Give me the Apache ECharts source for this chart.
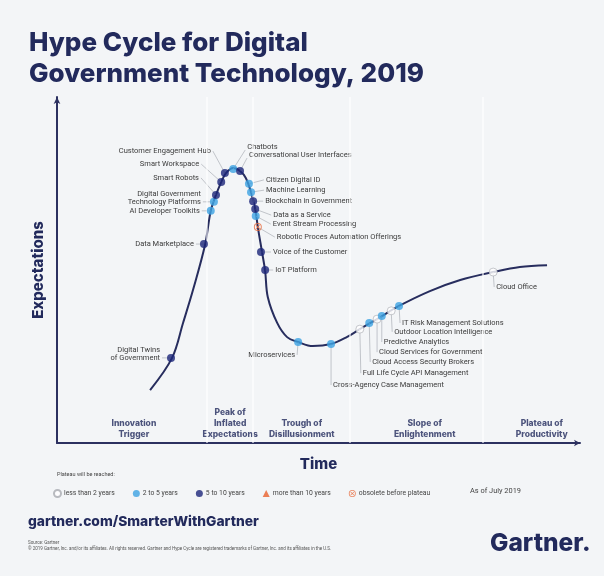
<!DOCTYPE html>
<html>
<head>
<meta charset="utf-8">
<script src="https://cdn.jsdelivr.net/npm/echarts@6/dist/echarts.min.js"></script>
<style>
  html, body { margin: 0; padding: 0; background: #f3f5f7; }
  #chart { width: 604px; height: 576px; }
</style>
</head>
<body>
<div id="chart"></div>
<script>
// hype curve (time 0-100, expectations 0-100)
const curveX = [17.8, 22.0, 24.1, 26.0, 28.3, 29.4, 30.4, 31.4, 32.3, 33.7, 35.0, 36.1, 37.1, 37.9, 38.4, 39.2, 39.8, 40.3, 42.1, 44.0, 46.1, 48.9, 52.4, 55.4, 57.9, 61.2, 65.4, 71.3, 77.1, 83.4, 88.5, 93.7];
const curveY = [15.3, 24.6, 34.7, 44.2, 57.2, 67.1, 71.7, 75.4, 78.0, 79.5, 78.6, 76.6, 72.5, 67.6, 62.4, 55.2, 49.7, 42.2, 34.7, 30.6, 29.2, 28.0, 28.6, 30.6, 32.9, 35.8, 39.6, 43.9, 47.1, 49.4, 50.9, 51.4];

// technologies on the curve
const techNames = [
  'Digital Twins\nof Government', 'Data Marketplace', 'AI Developer Toolkits',
  'Digital Government\nTechnology Platforms', 'Smart Robots', 'Smart Workspace',
  'Customer Engagement Hub', 'Chatbots', 'Conversational User Interfaces',
  'Citizen Digital ID', 'Machine Learning', 'Blockchain in Government',
  'Data as a Service', 'Event Stream Processing', 'Robotic Proces Automation Offerings',
  'Voice of the Customer', 'IoT Platform', 'Microservices',
  'Cross-Agency Case Management', 'Full Life Cycle API Management', 'Cloud Access Security Brokers',
  'Cloud Services for Government', 'Predictive Analytics', 'Outdoor Location Intelligence',
  'IT Risk Management Solutions', 'Cloud Office'
];
const techX = [21.8, 28.1, 29.4, 30.0, 30.4, 31.4, 32.1, 33.7, 35.0, 36.7, 37.1, 37.5, 37.9, 38.0, 38.4, 39.0, 39.8, 46.1, 52.4, 57.9, 59.7, 61.2, 62.1, 63.9, 65.4, 83.4];
const techY = [24.6, 57.5, 67.1, 69.7, 71.7, 75.4, 78.0, 79.2, 78.6, 74.9, 72.5, 69.9, 67.6, 65.6, 62.4, 55.2, 50.0, 29.2, 28.6, 32.9, 34.7, 35.8, 36.7, 38.2, 39.6, 49.4];
// 0 <2y, 1 2-5y, 2 5-10y, 3 >10y, 4 obsolete
const techGroup = [2, 2, 1, 1, 2, 2, 2, 1, 2, 1, 1, 2, 2, 1, 4, 2, 2, 1, 1, 0, 1, 0, 1, 0, 1, 0];

const groupNames = ['less than 2 years', '2 to 5 years', '5 to 10 years', 'more than 10 years', 'obsolete before plateau'];

const phaseNames = ['Innovation\nTrigger', 'Peak of\nInflated\nExpectations', 'Trough of\nDisillusionment', 'Slope of\nEnlightenment', 'Plateau of\nProductivity'];
const phaseX = [14.7, 33.1, 46.8, 70.3, 92.7];
const phaseBounds = [28.6, 37.5, 56.0, 81.5];

// leader line styling in pixels: [dx, dy, align, text dy]
const leaders = [
  [-9, 0, 'right', -4], [-8, 0, 'right', 0], [-9, 0, 'right', 0],
  [-11, 0, 'right', -4], [-15, -17, 'right', 0], [-20, -18, 'right', 0],
  [-12, -22, 'right', 0], [12, -19, 'left', -3], [7, -13, 'left', -3],
  [15, -4, 'left', 0], [13, -2, 'left', 0], [10, 0, 'left', 0],
  [16, 6, 'left', 0], [15, 8, 'left', 0], [17, 10, 'left', 0],
  [10, 0, 'left', 0], [8, 0, 'left', 0], [-1, 13, 'right', 0],
  [0, 41, 'left', 0], [1, 44, 'left', 0], [1, 39, 'left', 0],
  [0, 33, 'left', 0], [0, 26, 'left', 0], [1, 21, 'left', 0],
  [1, 17, 'left', 0], [1, 15, 'left', 0]
];

const navy = '#222a5c';
const textColor = '#3b3b3b';
const font = 'Roboto, "Liberation Sans", sans-serif';
const headFont = 'Inter, "Noto Sans", sans-serif';

const obsoleteIcon = 'path://M0,-10 A10,10 0 1,1 0,10 A10,10 0 1,1 0,-10 Z M0,-7.6 A7.6,7.6 0 1,0 0,7.6 A7.6,7.6 0 1,0 0,-7.6 Z M-5.2,-3.8 L3.8,5.2 L5.2,3.8 L-3.8,-5.2 Z M3.8,-5.2 L-5.2,3.8 L-3.8,5.2 L5.2,-3.8 Z';
const groupStyles = [
  { symbol: 'circle', itemStyle: { color: '#ffffff', borderColor: '#a7aab0', borderWidth: 0.8 } },
  { symbol: 'circle', itemStyle: { color: '#3ca2e2' } },
  { symbol: 'circle', itemStyle: { color: '#1b2679' } },
  { symbol: 'triangle', itemStyle: { color: '#e8602c' } },
  { symbol: obsoleteIcon, itemStyle: { color: '#e8693a' } }
];

const chart = echarts.init(document.getElementById('chart'));

const dotSeries = groupNames.map((name, g) => ({
  name: name,
  type: 'scatter',
  symbol: groupStyles[g].symbol,
  symbolSize: 8,
  itemStyle: groupStyles[g].itemStyle,
  z: 5,
  silent: true,
  data: techX.map((x, i) => [x, techY[i], techGroup[i]]).filter(d => d[2] === g)
}));

const option = {
  backgroundColor: '#f3f5f7',
  animation: false,
  title: {
    text: 'Hype Cycle for Digital\nGovernment Technology, 2019',
    left: 24,
    top: 23,
    textStyle: { fontFamily: headFont, fontSize: 26, fontWeight: 800, color: navy, lineHeight: 31 }
  },
  grid: { left: 57, right: 24, top: 97, bottom: 133 },
  xAxis: {
    type: 'value', min: 0, max: 100,
    name: 'Time', nameLocation: 'middle', nameGap: 14,
    nameTextStyle: { fontFamily: headFont, fontSize: 15, fontWeight: 800, color: navy },
    axisLine: { show: true, symbol: ['none', 'arrow'], symbolSize: [5, 6], lineStyle: { color: '#2c3160', width: 2 } },
    axisTick: { show: false }, axisLabel: { show: false }, splitLine: { show: false }
  },
  yAxis: {
    type: 'value', min: 0, max: 100,
    name: 'Expectations', nameLocation: 'middle', nameGap: 11,
    nameTextStyle: { fontFamily: headFont, fontSize: 15, fontWeight: 800, color: navy },
    axisLine: { show: true, symbol: ['none', 'arrow'], symbolSize: [5, 7], lineStyle: { color: '#2c3160', width: 2 } },
    axisTick: { show: false }, axisLabel: { show: false }, splitLine: { show: false }
  },
  legend: {
    data: groupNames,
    left: 48, top: 484,
    itemWidth: 7, itemHeight: 7, itemGap: 18,
    selectedMode: false,
    textStyle: { fontFamily: font, fontSize: 6.8, color: '#444', padding: [0, 0, 0, -2] }
  },
  graphic: [
    { type: 'text', left: 57, top: 472, style: { text: 'Plateau will be reached:', fontFamily: font, fontSize: 5.5, fill: '#444' } },
    { type: 'text', left: 470, top: 488, style: { text: 'As of July 2019', fontFamily: font, fontSize: 7.4, fill: '#444' } },
    { type: 'text', left: 28, top: 515, style: { text: 'gartner.com/SmarterWithGartner', fontFamily: headFont, fontSize: 13.8, fontWeight: 800, fill: navy } },
    { type: 'text', left: 28, top: 540, style: { text: 'Source: Gartner', fontFamily: font, fontSize: 4.5, fill: '#555' } },
    { type: 'text', left: 28, top: 546, style: { text: '\u00a9 2019 Gartner, Inc. and/or its affiliates. All rights reserved. Gartner and Hype Cycle are registered trademarks of Gartner, Inc. and its affiliates in the U.S.', fontFamily: font, fontSize: 4.5, fill: '#555' } },
    { type: 'text', left: 490, top: 531, style: { text: 'Gartner.', fontFamily: headFont, fontSize: 24.5, fontWeight: 800, fill: navy } }
  ],
  series: [
    {
      // phase separators
      type: 'line', data: [], z: 1, silent: true,
      markLine: {
        silent: true, symbol: 'none', animation: false,
        label: { show: false },
        lineStyle: { color: '#ffffff', width: 1.5, type: 'solid', opacity: 0.75 },
        data: phaseBounds.map(x => ({ xAxis: x }))
      }
    },
    {
      name: 'curve',
      type: 'line',
      smooth: 0.35,
      symbol: 'none',
      z: 2,
      silent: true,
      lineStyle: { color: '#272d5e', width: 2 },
      data: curveX.map((x, i) => [x, curveY[i]])
    },
    {
      // labels with leader lines
      type: 'custom',
      z: 3,
      silent: true,
      data: techX.map((x, i) => [x, techY[i]]),
      renderItem: function (params, api) {
        const i = params.dataIndex;
        const p = api.coord([api.value(0), api.value(1)]);
        const L = leaders[i];
        const ex = p[0] + L[0];
        const ey = p[1] + L[1];
        const left = L[2] === 'left';
        return {
          type: 'group',
          children: [
            { type: 'polyline', shape: { points: [p, [ex, ey]] }, style: { stroke: '#b4b7be', lineWidth: 0.8, fill: null } },
            {
              type: 'text', x: ex + (left ? 2 : -2), y: ey + L[3],
              style: { text: techNames[i], align: L[2], verticalAlign: 'middle', fontFamily: font, fontSize: 7.5, lineHeight: 8, fill: textColor }
            }
          ]
        };
      }
    },
    {
      // phase names along the time axis
      type: 'scatter',
      symbolSize: 0,
      silent: true,
      z: 3,
      data: phaseX.map((x, i) => [x, 0, i]),
      label: {
        show: true, position: 'top', distance: 3,
        formatter: p => phaseNames[p.value[2]],
        fontFamily: headFont, fontSize: 8.5, fontWeight: 800, lineHeight: 11, color: navy, align: 'center'
      }
    }
  ].concat(dotSeries)
};

chart.setOption(option);
</script>
</body>
</html>
